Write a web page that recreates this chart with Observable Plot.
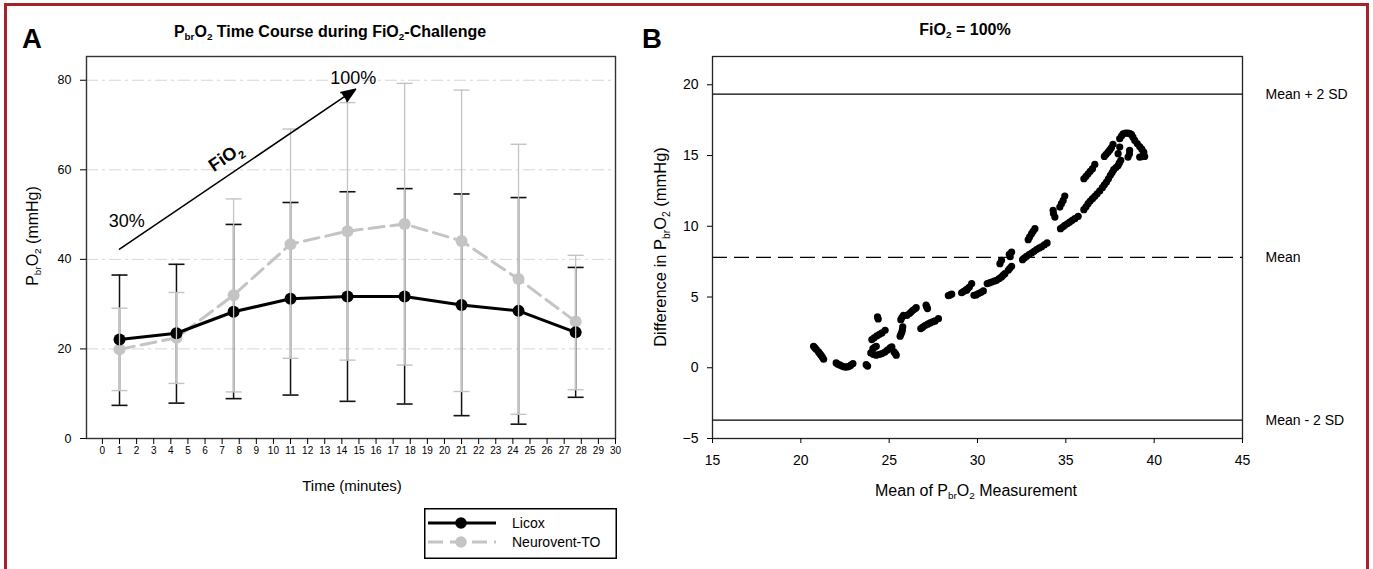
<!DOCTYPE html>
<html>
<head>
<meta charset="utf-8">
<script src="https://cdn.jsdelivr.net/npm/d3@7"></script>
<script src="https://cdn.jsdelivr.net/npm/@observablehq/plot@0.6"></script>
<style>
html,body{margin:0;padding:0;background:#fff;}
#wrap{position:relative;width:1373px;height:569px;overflow:hidden;background:#fff;font-family:"Liberation Sans",Arial,Helvetica,sans-serif;color:#000;}
#frame{position:absolute;left:4px;top:3px;width:1359px;height:640px;border:3px solid #a6232b;}
.lbl{position:absolute;white-space:nowrap;line-height:1;}
.c{transform:translate(-50%,-50%);}
.r{transform:translate(-50%,-50%) rotate(-90deg);}
.sub{font-size:0.62em;vertical-align:-0.32em;}
.panel{position:absolute;top:0;}
</style>
</head>
<body>
<div id="wrap">
  <div id="frame"></div>
  <div id="panelA" class="panel" style="left:0px;"></div>
  <div id="panelB" class="panel" style="left:600px;"></div>
  <div id="legend" style="position:absolute;left:424px;top:508px;"></div>
  <div class="lbl" style="left:22px;top:25px;font-size:27.5px;font-weight:bold;">A</div>
  <div class="lbl" style="left:642px;top:25px;font-size:27.5px;font-weight:bold;">B</div>
  <div class="lbl c" style="left:330px;top:33px;font-size:16px;font-weight:bold;">P<span class="sub">br</span>O<span class="sub">2</span> Time Course during FiO<span class="sub">2</span>-Challenge</div>
  <div class="lbl c" style="left:965px;top:31px;font-size:16px;font-weight:bold;">FiO<span class="sub">2</span> = 100%</div>
  <div class="lbl r" style="left:34px;top:236px;font-size:16px;">P<span class="sub">br</span>O<span class="sub">2</span> (mmHg)</div>
  <div class="lbl c" style="left:352px;top:485px;font-size:15px;">Time (minutes)</div>
  <div class="lbl r" style="left:662px;top:247px;font-size:16.5px;">Difference in P<span class="sub">br</span>O<span class="sub">2</span> (mmHg)</div>
  <div class="lbl c" style="left:976px;top:492px;font-size:16px;">Mean of P<span class="sub">br</span>O<span class="sub">2</span> Measurement</div>
</div>
<script>
// ---------- Panel A data ----------
const timeMin    = [1, 4.33, 7.67, 11, 14.33, 17.67, 21, 24.33, 27.67];
const licoxMean  = [22.1, 23.5, 28.3, 31.2, 31.7, 31.7, 29.8, 28.5, 23.7];
const licoxLow   = [7.4, 7.9, 8.9, 9.7, 8.3, 7.7, 5.1, 3.2, 9.2];
const licoxHigh  = [36.5, 38.9, 47.8, 52.7, 55.1, 55.8, 54.6, 53.8, 38.2];
const neuroMean  = [19.9, 22.5, 32.0, 43.4, 46.3, 47.9, 44.1, 35.6, 26.1];
const neuroLow   = [10.7, 12.3, 10.4, 17.9, 17.5, 16.4, 10.5, 5.4, 10.9];
const neuroHigh  = [29.1, 32.6, 53.5, 69.1, 75.0, 79.3, 77.8, 65.7, 40.9];
const xTicksA    = d3.range(0, 31);
const yTicksA    = [0, 20, 40, 60, 80];
const gridA      = [20, 40, 60, 80];
const fio2Arrow  = [{x1: 1, y1: 42.3, x2: 14.8, y2: 78}];
const fio2Labels = [{x: 1.43, y: 48.5, t: "30%"}, {x: 14.67, y: 80.4, t: "100%"}];
const fio2Name   = [{x: 7.2, y: 62.8, t: "FiO₂"}];
const seriesNames = ["Licox", "Neurovent-TO"];

// ---------- Panel B data ----------
const baMean = [
  20.72,20.8,20.88,21.0,21.07,21.14,21.22,21.29,
  22.0,22.1,22.23,22.35,22.46,22.55,22.65,22.75,22.83,22.95,
  23.7,23.78,
  24.34,24.38,
  24.02,24.15,24.3,24.45,24.59,24.77,
  24.08,24.17,24.27,
  23.96,24.1,24.27,24.45,24.59,24.75,24.9,25.05,25.15,25.28,25.35,25.4,
  25.62,25.67,25.72,25.75,25.77,
  25.66,25.72,25.81,
  26.0,26.15,26.25,26.34,26.45,26.53,
  27.09,27.13,27.17,
  26.79,26.9,27.03,27.18,27.32,27.46,27.6,27.79,
  28.35,28.45,28.54,
  29.1,29.22,29.35,29.45,29.54,
  29.39,29.67,
  29.8,29.92,30.05,30.2,30.33,
  30.55,30.68,30.8,30.95,31.08,31.22,31.36,31.46,31.55,
  31.74,31.83,31.93,
  31.27,31.36,31.8,31.93,31.85,
  32.55,32.66,32.78,32.92,33.06,33.2,33.34,33.48,33.62,33.78,33.94,
  32.87,32.95,33.06,33.15,33.25,
  34.28,34.38,34.3,34.66,34.75,34.85,34.94,
  34.7,34.82,34.94,35.08,35.22,35.36,35.51,35.7,
  36.02,36.14,36.26,36.38,36.51,36.64,36.77,36.92,37.07,37.18,37.3,37.41,37.52,37.62,37.71,37.84,37.96,38.03,38.11,
  36.02,36.14,36.26,36.38,36.51,36.64,
  37.18,37.28,37.39,37.49,37.58,37.67,
  38.05,38.15,38.24,38.38,38.52,38.62,38.71,38.8,38.9,39.04,39.18,39.3,39.41,39.46,39.32,39.18,38.52,38.6,38.61,37.96,38.05
];
const baDiff = [
  1.52,1.4,1.29,1.12,1.0,0.89,0.75,0.6,
  0.34,0.25,0.18,0.1,0.06,0.05,0.06,0.1,0.18,0.3,
  0.22,0.12,
  3.59,3.45,
  1.99,2.12,2.25,2.36,2.46,2.65,
  1.36,1.45,1.52,
  1.05,0.95,0.89,0.95,1.0,1.1,1.24,1.4,1.47,1.12,1.0,0.89,
  2.23,2.38,2.53,2.7,2.89,
  3.4,3.55,3.71,
  3.7,3.83,3.95,4.06,4.15,4.25,
  4.42,4.3,4.18,
  2.77,2.87,2.98,3.08,3.17,3.24,3.31,3.47,
  5.1,5.15,5.2,
  5.3,5.4,5.5,5.6,5.7,
  5.48,5.95,
  5.12,5.15,5.24,5.33,5.43,
  5.95,6.0,6.06,6.12,6.18,6.3,6.42,6.55,6.65,
  6.89,7.03,7.17,
  7.36,7.59,8.02,8.18,7.85,
  7.64,7.76,7.88,8.0,8.11,8.23,8.35,8.45,8.54,8.68,8.82,
  9.05,9.25,9.48,9.65,9.83,
  11.13,10.65,10.9,11.36,11.6,11.83,12.14,
  9.83,9.95,10.07,10.18,10.3,10.42,10.54,10.7,
  11.17,11.38,11.6,11.78,11.95,12.12,12.3,12.5,12.73,12.93,13.13,13.36,13.6,13.8,14.0,14.15,14.3,14.48,14.66,
  13.36,13.53,13.71,13.89,14.07,14.37,
  14.94,15.09,15.24,15.4,15.55,15.79,
  16.19,16.38,16.54,16.58,16.59,16.55,16.49,16.3,16.07,15.85,15.64,15.45,15.24,14.94,14.92,14.89,14.89,15.1,15.36,15.13,15.6
];
const baBias  = 7.8;
const baUpper = 19.34;
const baLower = -3.7;
const limitLabel = new Map([[baUpper, "Mean + 2 SD"], [baBias, "Mean"], [baLower, "Mean - 2 SD"]]);
const xTicksB = [15, 20, 25, 30, 35, 40, 45];
const yTicksB = [-5, 0, 5, 10, 15, 20];

const FONT = '"Liberation Sans", Arial, Helvetica, sans-serif';
const GRAY = "#c4c4c4";

// horizontal error-bar cap symbol
const cap = {draw(ctx, size) { const r = Math.sqrt(size / Math.PI); ctx.moveTo(-r, 0); ctx.lineTo(r, 0); }};

const rowsA = timeMin.map((t, i) => ({
  t, licox: licoxMean[i], licoxLo: licoxLow[i], licoxHi: licoxHigh[i],
  neuro: neuroMean[i], neuroLo: neuroLow[i], neuroHi: neuroHigh[i]
}));

const plotA = Plot.plot({
  width: 630, height: 480,
  marginLeft: 86, marginRight: 15, marginTop: 56, marginBottom: 42,
  style: {fontFamily: FONT, background: "transparent", color: "#000"},
  x: {domain: [-0.93, 30], label: null},
  y: {domain: [0, 85.3], label: null},
  marks: [
    Plot.ruleY(gridA, {stroke: "#d6d6d6", strokeWidth: 1, strokeDasharray: "12,4,3,4"}),
    Plot.ruleX(rowsA, {x: "t", y1: "licoxLo", y2: "licoxHi", stroke: "#111", strokeWidth: 1.5}),
    Plot.dot(rowsA, {x: "t", y: "licoxLo", symbol: cap, r: 8, stroke: "#111", fill: "none", strokeWidth: 1.6}),
    Plot.dot(rowsA, {x: "t", y: "licoxHi", symbol: cap, r: 8, stroke: "#111", fill: "none", strokeWidth: 1.6}),
    Plot.line(rowsA, {x: "t", y: "neuro", stroke: GRAY, strokeWidth: 3, strokeDasharray: "15,7"}),
    Plot.dot(rowsA, {x: "t", y: "neuro", r: 6, fill: GRAY}),
    Plot.line(rowsA, {x: "t", y: "licox", stroke: "#000", strokeWidth: 3}),
    Plot.dot(rowsA, {x: "t", y: "licox", r: 6, fill: "#000"}),
    Plot.ruleX(rowsA, {x: "t", y1: "neuroLo", y2: "neuroHi", stroke: GRAY, strokeWidth: 1.3}),
    Plot.dot(rowsA, {x: "t", y: "neuroLo", symbol: cap, r: 8, stroke: GRAY, fill: "none", strokeWidth: 1.4}),
    Plot.dot(rowsA, {x: "t", y: "neuroHi", symbol: cap, r: 8, stroke: GRAY, fill: "none", strokeWidth: 1.4}),
    Plot.arrow(fio2Arrow, {x1: "x1", y1: "y1", x2: "x2", y2: "y2", stroke: "#000", strokeWidth: 1.6, headLength: 14, headAngle: 42}),
    Plot.text(fio2Labels, {x: "x", y: "y", text: "t", fontSize: 18, fill: "#000"}),
    Plot.text(fio2Name, {x: "x", y: "y", text: "t", fontSize: 18, fontWeight: "bold", rotate: -34, fill: "#000"}),
    Plot.frame({stroke: "#333", strokeWidth: 1.4}),
    Plot.axisX(xTicksA, {tickSize: 6, tickPadding: 2, fontSize: 10, label: null}),
    Plot.axisY(yTicksA, {tickSize: 6, tickPadding: 9, fontSize: 12.5, label: null})
  ]
});
// filled arrow head
plotA.querySelectorAll('g[aria-label="arrow"] path').forEach(p => p.setAttribute("fill", "#000"));
// subscript for FiO2 label
plotA.querySelectorAll("text").forEach(el => {
  if (el.textContent === "FiO₂") {
    el.textContent = "";
    const ns = "http://www.w3.org/2000/svg";
    const a = document.createElementNS(ns, "tspan"); a.textContent = "FiO";
    const b = document.createElementNS(ns, "tspan"); b.textContent = "2";
    b.setAttribute("font-size", "11"); b.setAttribute("dy", "5");
    el.appendChild(a); el.appendChild(b);
  }
});
document.getElementById("panelA").appendChild(plotA);

const rowsB = baMean.map((m, i) => ({m, d: baDiff[i]}));
const plotB = Plot.plot({
  width: 770, height: 480,
  marginLeft: 112, marginRight: 128, marginTop: 56, marginBottom: 42,
  style: {fontFamily: FONT, background: "transparent", color: "#000"},
  x: {domain: [15, 45], label: null},
  y: {domain: [-5, 22], label: null},
  marks: [
    Plot.ruleY([baUpper, baLower], {stroke: "#000", strokeWidth: 1.3}),
    Plot.ruleY([baBias], {stroke: "#000", strokeWidth: 1.3, strokeDasharray: "15,7"}),
    Plot.dot(rowsB, {x: "m", y: "d", r: 3.6, fill: "#000"}),
    Plot.frame({stroke: "#222", strokeWidth: 1.3}),
    Plot.axisX(xTicksB, {tickSize: 5, tickPadding: 12, fontSize: 14, label: null}),
    Plot.axisY(yTicksB, {tickSize: 5, tickPadding: 9, fontSize: 14, label: null}),
    Plot.axisY([baUpper, baBias, baLower], {anchor: "right", tickSize: 0, tickPadding: 23, fontSize: 14,
      tickFormat: d => limitLabel.get(d), label: null})
  ]
});
document.getElementById("panelB").appendChild(plotB);

// legend
const lg = d3.create("svg").attr("width", 193).attr("height", 51).style("font-family", FONT);
lg.append("rect").attr("x", 0.75).attr("y", 0.75).attr("width", 191.5).attr("height", 49.5)
  .attr("fill", "#fff").attr("stroke", "#000").attr("stroke-width", 1.5);
const lgRows = [
  {name: seriesNames[0], y: 15, color: "#000", dash: null},
  {name: seriesNames[1], y: 34, color: GRAY, dash: "15,7"}
];
lgRows.forEach(r => {
  lg.append("line").attr("x1", 4).attr("x2", 72).attr("y1", r.y).attr("y2", r.y)
    .attr("stroke", r.color).attr("stroke-width", 3).attr("stroke-dasharray", r.dash);
  lg.append("circle").attr("cx", 37).attr("cy", r.y).attr("r", 5.8).attr("fill", r.color);
  lg.append("text").attr("x", 88).attr("y", r.y).attr("dy", "0.35em").attr("font-size", 14).text(r.name);
});
document.getElementById("legend").appendChild(lg.node());
</script>
</body>
</html>
